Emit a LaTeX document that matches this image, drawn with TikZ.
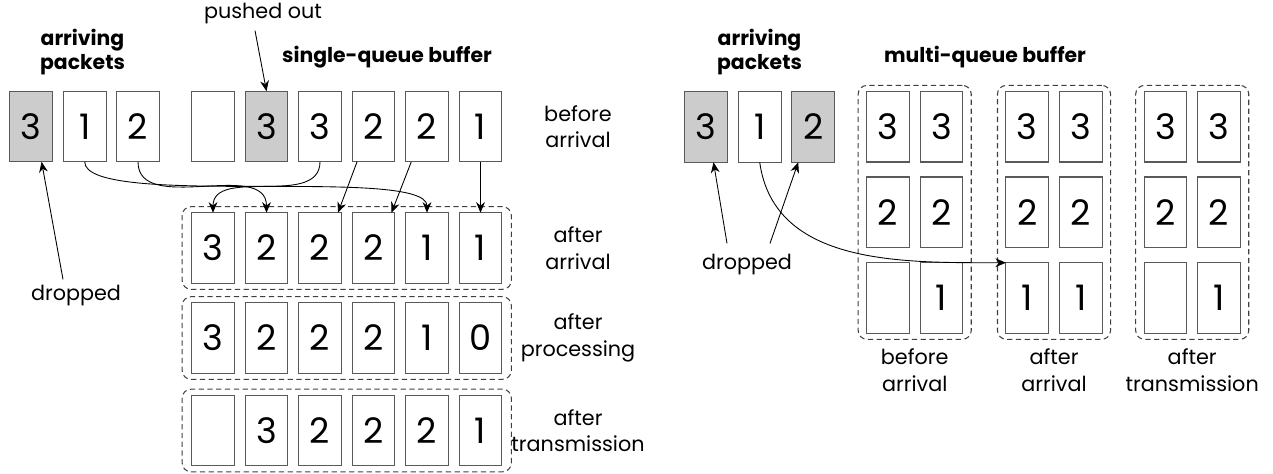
\documentclass[tikz,border=0pt]{standalone}
\usepackage{fontspec}
\setmainfont{Poppins}
\usetikzlibrary{arrows.meta,fit}

\begin{document}
\begin{tikzpicture}[x=0.02cm, y=-0.02cm,
        pkt/.style={draw=black!65, line width=0.6pt, minimum width=0.854cm, minimum height=1.412cm, inner sep=0pt, outer sep=0pt, font=\fontsize{20}{20}\selectfont},
        drop/.style={pkt, fill=black!20},
        grp/.style={draw=black!75, dash pattern=on 3pt off 2pt, rounded corners=5pt, line width=0.6pt, inner xsep=0.19cm, inner ysep=0.12cm},
        lbl/.style={align=center, font=\fontsize{11.8}{15}\selectfont},
        title/.style={align=center, font=\bfseries\fontsize{11.6}{13.5}\selectfont},
        conn/.style={-{Stealth[length=6pt,width=5pt]}, line width=0.5pt},
    ]
    \useasboundingbox (0,0) rectangle (1273,473);

    % single-queue buffer
    \node[title] (arrL) at (82.5,52) {arriving\\packets};
    \node[title] (sqb) at (387,57) {single-queue buffer};
    \node[lbl] (pushed) at (263,14) {pushed out};

    \node[drop] (a1) at (30.8,126.5) {3};
    \node[pkt] (a2) at (84.7,126.5) {1};
    \node[pkt] (a3) at (138,126.5) {2};

    \foreach \v/\s [count=\i] in {{}/pkt,3/drop,3/pkt,2/pkt,2/pkt,1/pkt}
        \node[\s] (b\i) at ({213+53.5*(\i-1)},126.5) {\v};
    \foreach \v [count=\i] in {3,2,2,2,1,1}
        \node[pkt] (sa\i) at ({213+53.5*(\i-1)},248) {\v};
    \foreach \v [count=\i] in {3,2,2,2,1,0}
        \node[pkt] (sp\i) at ({213+53.5*(\i-1)},338) {\v};
    \foreach \v [count=\i] in {{},3,2,2,2,1}
        \node[pkt] (st\i) at ({213+53.5*(\i-1)},430.5) {\v};

    \node[grp, fit=(sa1)(sa6)] (saq) {};
    \node[grp, fit=(sp1)(sp6)] (spq) {};
    \node[grp, fit=(st1)(st6)] (stq) {};

    \node[lbl] (lb0) at (578,126.5) {before\\arrival};
    \node[lbl] (lb1) at (578,248) {after\\arrival};
    \node[lbl] (lb2) at (578,338) {after\\processing};
    \node[lbl] (lb3) at (578,430.5) {after\\transmission};
    \node[lbl] (dropL) at (76,296) {dropped};

    \draw[conn] ([xshift=-0.16cm]pushed.south) -- (b2.north);
    \draw[conn] ([xshift=-0.26cm]dropL.north) -- (a1.287);
    \draw[conn] (a2.south) to[out=-90,in=90,looseness=0.35] (sa5.north);
    \draw[conn] (a3.south) to[out=-90,in=90] (sa2.north);
    \draw[conn] (b3.south) to[out=-90,in=90] (sa1.north);
    \draw[conn] (b4.245) -- (sa3.63);
    \draw[conn] (b5.246) -- (sa4.63);
    \draw[conn] (b6.south) -- (sa6.north);

    % multi-queue buffer
    \node[title] (arrR) at (759.5,52) {arriving\\packets};
    \node[title] (mqb) at (985,57) {multi-queue buffer};

    \node[drop] (ma1) at (706,127) {3};
    \node[pkt] (ma2) at (759.7,127) {1};
    \node[drop] (ma3) at (813.2,127) {2};

    \foreach \g/\x/\l/\t in {1/888/{}/{before\\arrival}, 2/1027.3/1/{after\\arrival}, 3/1165.5/{}/{after\\transmission}} {
        \node[pkt] (g\g-11) at (\x,126.7) {3};
        \node[pkt] (g\g-12) at (\x+53.4,126.7) {3};
        \node[pkt] (g\g-21) at (\x,212.3) {2};
        \node[pkt] (g\g-22) at (\x+53.4,212.3) {2};
        \node[pkt] (g\g-31) at (\x,298) {\l};
        \node[pkt] (g\g-32) at (\x+53.4,298) {1};
        \node[grp, inner xsep=0.17cm, fit=(g\g-11)(g\g-32)] (grp\g) {};
        \node[lbl] (gl\g) at (\x+26.7,370) {\t};
    }
    \node[lbl] (dropR) at (747,265) {dropped};

    \draw[conn] ([xshift=-0.4cm,yshift=0.1cm]dropR.north) -- (ma1.282);
    \draw[conn] ([xshift=0.46cm,yshift=0.1cm]dropR.north) -- (ma3.247);
    \draw[conn] (ma2.south) to[out=-82,in=180] (g2-31.north west);
\end{tikzpicture}
\end{document}
